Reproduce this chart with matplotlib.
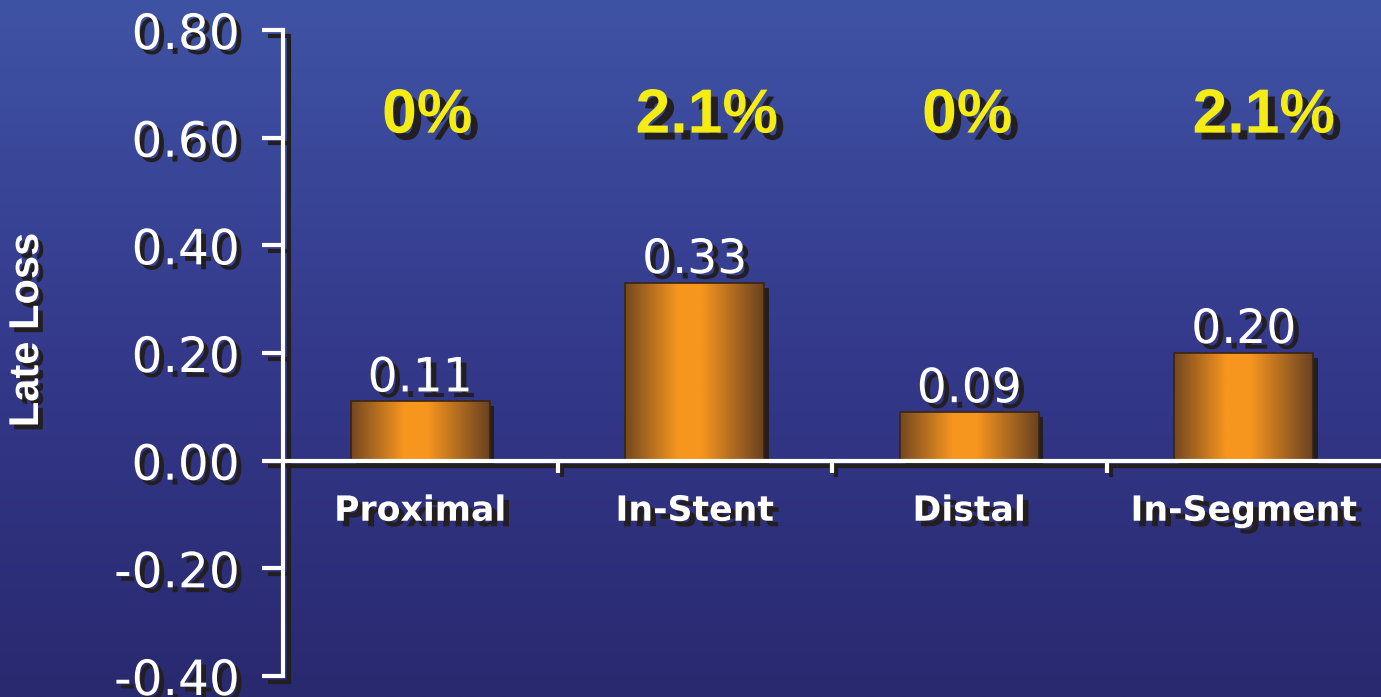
import numpy as np
import matplotlib.pyplot as plt
import matplotlib.patheffects as pe
from matplotlib.colors import LinearSegmentedColormap

# Late loss by segment
categories = ['Proximal', 'In-Stent', 'Distal', 'In-Segment']
late_loss = [0.11, 0.33, 0.09, 0.20]
restenosis = ['0%', '2.1%', '0%', '2.1%']
yticks = [-0.40, -0.20, 0.00, 0.20, 0.40, 0.60, 0.80]

# small horizontal nudges (pixels) for the percentage labels
pct_dx = [7, 12, -2, 20]

SHADOW = '#231f20'


def shadow(dx, dy):
    return [pe.SimplePatchShadow(offset=(dx, -dy), shadow_rgbFace=SHADOW, alpha=1), pe.Normal()]


def line_shadow(dx, dy):
    return [pe.SimpleLineShadow(offset=(dx, -dy), shadow_color=SHADOW, alpha=1), pe.Normal()]


fig = plt.figure(figsize=(13.81, 6.97), dpi=100)

# blue gradient backdrop
bg = fig.add_axes([0, 0, 1, 1], zorder=-10)
bg_cmap = LinearSegmentedColormap.from_list('bg', ['#3f53a5', '#34398b', '#29296f'])
bg.imshow(np.linspace(0, 1, 256).reshape(-1, 1), aspect='auto', cmap=bg_cmap,
          extent=[0, 1, 0, 1])
bg.axis('off')

ax = fig.add_axes([283 / 1381, 21 / 697, 1 - 283 / 1381, 646 / 697])
ax.patch.set_alpha(0)
ax.set_xlim(0, 4)
ax.set_ylim(-0.4, 0.8)

x = np.arange(len(categories)) + 0.5
width = 0.505

bar_cmap = LinearSegmentedColormap.from_list(
    'bar', [(0, '#744820'), (0.38, '#f7961e'), (0.55, '#f7961e'), (1, '#6a4222')])
grad = np.linspace(0, 1, 256).reshape(1, -1)

bars = ax.bar(x, late_loss, width, color='#c07020', zorder=2,
              path_effects=shadow(3.5, 3.5))
for b in bars:
    img = ax.imshow(grad, cmap=bar_cmap, aspect='auto', zorder=3,
                    extent=[b.get_x(), b.get_x() + b.get_width(), 0, b.get_height()])
    img.set_clip_path(b)
ax.bar(x, late_loss, width, fill=False, edgecolor='#3a2410', linewidth=1.2, zorder=4)

# value labels above bars
for xi, v in zip(x, late_loss):
    ax.annotate(f'{v:.2f}', (xi, v), xytext=(0, 0), textcoords='offset points',
                ha='center', va='bottom', color='white', fontsize=34,
                path_effects=shadow(4, 4), zorder=5)

# restenosis rates
for xi, r, dx in zip(x, restenosis, pct_dx):
    ax.annotate(r, (xi, 0.64), xytext=(dx, 0), textcoords='offset pixels',
                ha='center', va='center', color='#f5ec14', fontsize=45,
                fontweight='bold', family='Liberation Sans', path_effects=shadow(5, 5))

# category labels under the zero line
for xi, c in zip(x, categories):
    ax.text(xi, -0.093, c, ha='center', va='center', color='white', fontsize=25,
            fontweight='bold', path_effects=shadow(4, 4))

# axes
for s in ['top', 'right']:
    ax.spines[s].set_visible(False)
ax.spines['bottom'].set_position(('data', 0))
for s in ['left', 'bottom']:
    ax.spines[s].set_color('white')
    ax.spines[s].set_linewidth(3)
    ax.spines[s].set_path_effects(line_shadow(4, 4))
    ax.spines[s].set_zorder(6)

ax.set_yticks(yticks)
ax.set_yticklabels([f'{t:.2f}' for t in yticks])
ax.tick_params(axis='y', length=15, width=3, color='white', labelcolor='white',
               labelsize=35, pad=16)
for t in ax.yaxis.get_major_ticks():
    t.tick1line.set_path_effects(line_shadow(4, 4))
    t.label1.set_path_effects(shadow(3.5, 3.5))

# category separators hanging below the zero line
ax.set_xticks([])
for xs in [1, 2, 3]:
    ax.plot([xs, xs], [0, -0.022], color='white', lw=3, solid_capstyle='butt',
            zorder=7, path_effects=line_shadow(3, 3))

fig.text(27 / 1381, 1 - 330 / 697, 'Late Loss', rotation=90, ha='center', va='center',
         color='white', fontsize=30, fontweight='bold', family='Liberation Sans',
         path_effects=shadow(3.5, 3.5))

fig.savefig('out.png', dpi=100)
